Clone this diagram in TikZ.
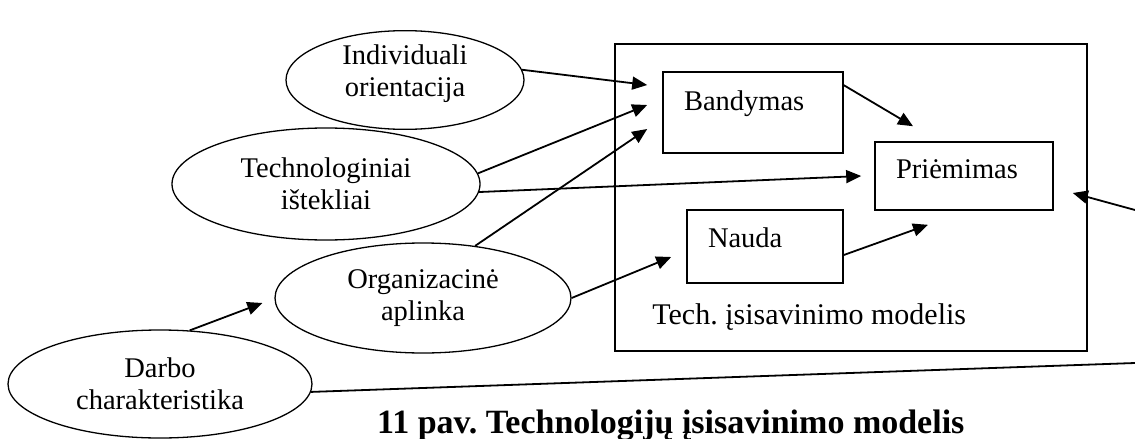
\documentclass[tikz,border=0pt]{standalone}
\usepackage{fontspec}
\setmainfont{Liberation Serif}
\usetikzlibrary{shapes.geometric,arrows.meta}
\frenchspacing
\tikzset{
  factor/.style={draw,ellipse,line width=1.3pt,inner sep=0pt,align=center,font=\fontsize{28.5}{32}\selectfont},
  stage/.style={draw,rectangle,line width=1.6pt,align=left,inner xsep=21pt,inner ysep=0pt,text height=20pt,font=\fontsize{28.5}{32}\selectfont},
  link/.style={line width=1.8pt,-{Triangle[length=15pt,width=13pt]}},
  plainlink/.style={line width=1.8pt}
}
\begin{document}
\begin{tikzpicture}[x=1pt,y=-1pt]
\useasboundingbox (0,0) rectangle (1135,439);
\node[draw,line width=1.6pt,minimum width=472pt,minimum height=307pt,inner sep=0pt] (model) at (851,197.5) {};
\node[anchor=base west,inner sep=0pt,font=\fontsize{30}{34}\selectfont] (modeltitle) at ([xshift=38pt,yshift=27pt]model.south west) {Tech. įsisavinimo modelis};
\node[factor,minimum width=238pt,minimum height=94pt,text depth=18pt] (indiv) at (405,80) {Individuali\\orientacija};
\node[factor,minimum width=308pt,minimum height=112pt] (tech) at (326,184) {Technologiniai\\ištekliai};
\node[factor,minimum width=296pt,minimum height=110pt] (org) at (423,298) {Organizacinė\\aplinka};
\node[factor,minimum width=304pt,minimum height=108pt] (darbo) at (160,384) {Darbo\\charakteristika};
\node[stage,text width=138pt,minimum height=81pt,text depth=24.6pt] (band) at (753,112.5) {Bandymas};
\node[stage,text width=136pt,minimum height=68pt,text depth=14.6pt] (prie) at (964,176) {Priėmimas};
\node[stage,text width=114pt,minimum height=73pt,text depth=17.6pt] (nauda) at (765,246.5) {Nauda};
\node[anchor=base west,inner sep=0pt,font=\bfseries\fontsize{34}{40}\selectfont] (caption) at (377,433) {11 pav. Technologijų įsisavinimo modelis};
\coordinate (edgein) at (1135,210);
\coordinate (edgeout) at (1135,363);
\draw[link] (indiv.5) -- ([xshift=-15pt,yshift=27.5pt]band.west);
\draw[link] (tech.4) -- ([xshift=-15pt,yshift=7.5pt]band.west);
\draw[link] (org.45) -- ([xshift=-15pt,yshift=-16.5pt]band.west);
\draw[link] (tech.-3) -- ([xshift=-13pt]prie.west);
\draw[link] ([yshift=-14pt]band.north east) -- ([xshift=-51pt,yshift=15pt]prie.north);
\draw[link] ([yshift=-8.5pt]nauda.east) -- ([xshift=-36pt,yshift=-14pt]prie.south);
\draw[link] (org.east) -- ([xshift=-15pt,yshift=-10.5pt]nauda.west);
\draw[link] (darbo.61) -- ([xshift=-12pt,yshift=-5pt]org.west);
\draw[plainlink] (darbo.-3) -- (edgeout);
\draw[link] (edgein) -- ([xshift=19pt,yshift=-17pt]prie.east);
\end{tikzpicture}
\end{document}
